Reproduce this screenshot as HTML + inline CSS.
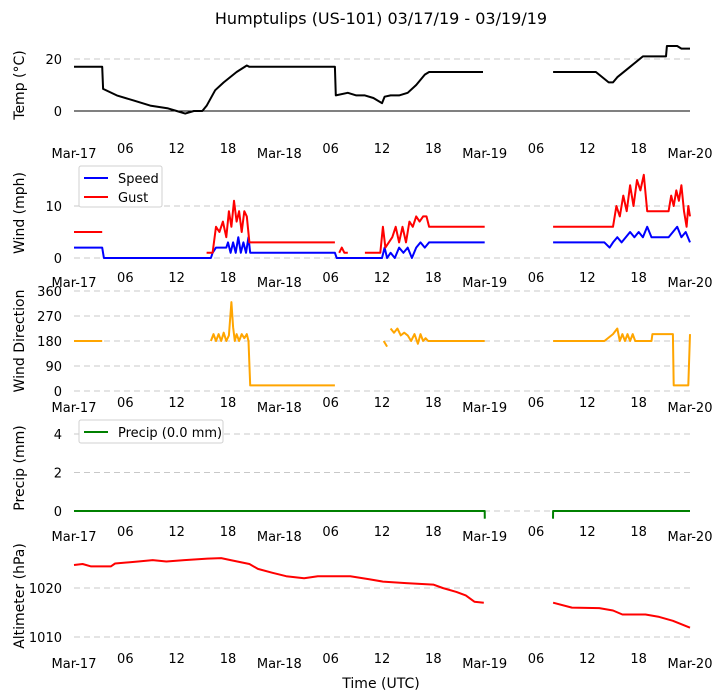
<!DOCTYPE html>
<html><head><meta charset="utf-8"><style>
body{margin:0;background:#fff;}
svg{display:block;font-family:"DejaVu Sans","Liberation Sans",sans-serif;}
</style></head><body>
<svg id="chart" width="722" height="700" viewBox="0 0 722 700" xmlns="http://www.w3.org/2000/svg">
<text x="381" y="24" text-anchor="middle" font-size="16">Humptulips (US-101) 03/17/19 - 03/19/19</text>
<text x="381" y="688" text-anchor="middle" font-size="14">Time (UTC)</text>
</svg>
<script>
const xTickLabels=["Mar-17","06","12","18","Mar-18","06","12","18","Mar-19","06","12","18","Mar-20"];
const xTickHours=[0,6,12,18,24,30,36,42,48,54,60,66,72];
const tempT=[0,3.3,3.4,5,7,9,11,12,13,14,15,15.5,16.5,17.5,19,20.2,20.5,30.5,30.6,32,33,34,35,36,36.3,37,38,39,40,41,41.5,47.8,48,56,61,62.5,63,63.5,65,66.5,69.2,69.3,70.5,71,72];
const tempV=[17,17,8.5,6,4,2,1,0,-1,0,0,2,8,11,15,17.5,17,17,6,7,6,6,5,3,5.5,6,6,7,10,14,15,15,null,15,15,11,11,13,17,21,21,25,25,24,24];
const speedT=[0,3.3,3.5,16,16.2,16.6,17.8,18,18.3,18.6,18.9,19.2,19.5,19.8,20.1,20.4,20.6,30.5,30.7,36,36.3,36.6,37,37.5,38,38.5,39,39.5,40,40.5,41,41.5,48,52,56,62,62.6,63,63.5,64,64.5,65,65.5,66,66.5,67,67.5,68,68.5,69,69.5,70,70.5,71,71.5,72];
const speedV=[2,2,0,0,1,2,2,3,1,3,1,4,1,3,1,4,1,1,0,0,2,0,1,0,2,1,2,0,2,3,2,3,3,null,3,3,2,3,4,3,4,5,4,5,4,6,4,4,4,4,4,5,6,4,5,3];
const gustT=[0,3.3,3.6,15.5,16.2,16.6,17,17.4,17.8,18.1,18.4,18.7,19,19.3,19.6,19.9,20.2,20.5,20.7,30.5,30.8,31,31.3,31.6,32,33,34,35,35.8,36.1,36.4,36.8,37.2,37.6,38,38.4,38.8,39.2,39.6,40,40.4,40.8,41.2,41.5,48,52,56,63,63.4,63.8,64.2,64.6,65,65.4,65.8,66.2,66.6,67,67.5,69.5,69.8,70.1,70.4,70.7,71,71.3,71.6,71.8,72];
const gustV=[5,5,null,1,1,6,5,7,4,9,6,11,7,9,5,9,8,3,3,3,null,1,2,1,1,null,1,1,1,6,2,3,4,6,3,6,3,7,6,8,7,8,8,6,6,null,6,6,10,8,12,9,14,10,15,13,16,9,9,9,12,10,13,11,14,9,6,10,8];
const dirT=[0,3.3,3.5,16,16.3,16.6,16.9,17.2,17.5,17.8,18.1,18.4,18.6,18.8,19,19.3,19.6,19.9,20.2,20.4,20.6,30.5,31,36.2,36.6,36.8,37,37.4,37.8,38.2,38.6,39,39.4,39.8,40.2,40.5,40.8,41.1,41.4,48,52,56,62,63,63.5,63.8,64.1,64.4,64.7,65,65.3,65.6,66,67.5,67.6,70,70.1,71.8,72];
const dirV=[180,180,null,180,205,180,205,180,210,180,200,320,230,180,205,180,205,190,205,180,20,20,null,180,160,null,225,210,225,200,210,200,180,205,170,205,180,190,180,180,null,180,180,205,225,180,205,180,205,180,205,180,180,180,205,205,20,20,205];
const precipT=[0,48,48.01,52,55.99,56,72];
const precipV=[0,0,-0.4,null,-0.4,0,0];
const altT=[0,1,2,4.3,4.8,7.5,9.2,10.8,12.9,15.6,17.2,18.3,20.5,21.5,23.2,24.8,26.9,28.5,32.3,34.5,36.1,38.8,42,43.1,44.7,45.8,46.8,47.9,52,56,58.2,61.4,63,64.1,66.8,68.4,70,72];
const altV=[1024.7,1024.9,1024.4,1024.4,1025,1025.4,1025.7,1025.4,1025.7,1026,1026.1,1025.7,1024.9,1023.9,1023.1,1022.4,1022,1022.4,1022.4,1021.8,1021.3,1021,1020.7,1020,1019.2,1018.5,1017.2,1017,null,1017,1016,1015.9,1015.4,1014.6,1014.6,1014.1,1013.3,1011.9];

const NS="http://www.w3.org/2000/svg";
const svg=document.getElementById('chart');
const X0=74,X1=690;
function xs(h){return X0+(h/72)*(X1-X0);}
function mk(tag,attrs){const e=document.createElementNS(NS,tag);for(const k in attrs)e.setAttribute(k,attrs[k]);svg.appendChild(e);return e;}

const panels=[
 {name:'temp',label:'Temp (\u00b0C)',v0:0,y0:111,v1:20,y1:59,grid:[20],ticks:[0,20],xlab:153,labY:85},
 {name:'wind',label:'Wind (mph)',v0:0,y0:258,v1:10,y1:206,grid:[0,10],ticks:[0,10],xlab:282,labY:213},
 {name:'direction',label:'Wind Direction',v0:0,y0:391,v1:360,y1:291,grid:[0,90,180,270,360],ticks:[0,90,180,270,360],xlab:407,labY:341},
 {name:'precip',label:'Precip (mm)',v0:0,y0:511,v1:4,y1:434,grid:[0,2,4],ticks:[0,2,4],xlab:536,labY:468},
 {name:'altimeter',label:'Altimeter (hPa)',v0:1010,y0:637,v1:1020,y1:588,grid:[1010,1020],ticks:[1010,1020],xlab:663,labY:596}
];
function ysFor(p){return v=>p.y0+(v-p.v0)*(p.y1-p.y0)/(p.v1-p.v0);}

panels.forEach(p=>{
  const ys=ysFor(p);
  p.grid.forEach(g=>{
    const l=mk('line',{x1:X0,x2:X1,y1:ys(g),y2:ys(g),stroke:'#c8c8c8','stroke-width':1,'stroke-dasharray':'6,4'});
    
    
  });
  p.ticks.forEach(t=>{
    const tx=mk('text',{x:62,y:ys(t)+5,'text-anchor':'end','font-size':13});
    tx.textContent=String(t);
    
    
  });
  xTickLabels.forEach((lab,i)=>{
    const tx=mk('text',{x:xs(xTickHours[i]),y:p.xlab+(lab.length>2?5:0),'text-anchor':'middle','font-size':13});
    tx.textContent=lab;
    
    
  });
  const yl=mk('text',{x:0,y:0,'text-anchor':'middle','font-size':14,transform:`translate(24,${p.labY}) rotate(-90)`});
  yl.textContent=p.label;
  
  
});

// temp zero line
const zl=mk('line',{x1:X0,x2:X1,y1:111,y2:111,stroke:'#000','stroke-width':1});



function series(p,T,V,color,name){
  const ys=ysFor(p);
  let d='',pen=false;
  for(let i=0;i<T.length;i++){
    if(V[i]===null){pen=false;continue;}
    d+=(pen?'L':'M')+xs(T[i]).toFixed(1)+','+ys(V[i]).toFixed(1);
    pen=true;
  }
  const path=mk('path',{d:d,fill:'none',stroke:color,'stroke-width':2,'stroke-linejoin':'round'});
  
  
}
series(panels[0],tempT,tempV,'#000','temperature-line');
series(panels[1],speedT,speedV,'#0000ff','wind-speed-line');
series(panels[1],gustT,gustV,'#ff0000','wind-gust-line');
series(panels[2],dirT,dirV,'#ffa500','wind-direction-line');
series(panels[3],precipT,precipV,'#008000','precip-line');
series(panels[4],altT,altV,'#ff0000','altimeter-line');

function legend(x,y,w,h,items,name){
  const g=document.createElementNS(NS,'g');
  
  
  svg.appendChild(g);
  const r=document.createElementNS(NS,'rect');
  [['x',x],['y',y],['width',w],['height',h],['fill','#fff'],['stroke','#d0d0d0'],['rx',2]].forEach(a=>r.setAttribute(a[0],a[1]));
  g.appendChild(r);
  items.forEach((it,i)=>{
    const cy=y+12+i*19;
    const l=document.createElementNS(NS,'line');
    [['x1',x+5],['x2',x+29],['y1',cy],['y2',cy],['stroke',it.c],['stroke-width',2]].forEach(a=>l.setAttribute(a[0],a[1]));
    
    
    g.appendChild(l);
    const t=document.createElementNS(NS,'text');
    [['x',x+39],['y',cy+5],['font-size',13]].forEach(a=>t.setAttribute(a[0],a[1]));
    t.textContent=it.t;
    
    
    g.appendChild(t);
  });
}
legend(79,166,83,41,[{t:'Speed',c:'#0000ff'},{t:'Gust',c:'#ff0000'}],'wind-legend');
legend(79,420,144,23,[{t:'Precip (0.0 mm)',c:'#008000'}],'precip-legend');
</script>
</body></html>
